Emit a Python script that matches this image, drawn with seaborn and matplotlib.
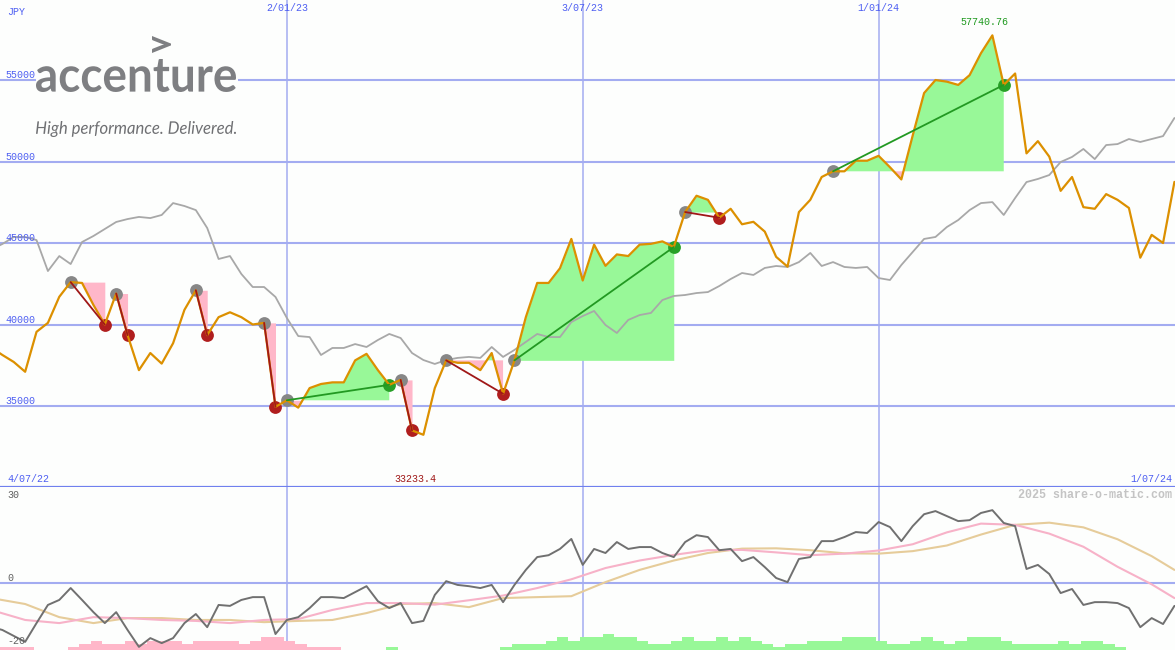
import numpy as np
import pandas as pd
import seaborn as sns
import matplotlib.pyplot as plt
from matplotlib.textpath import TextPath
from matplotlib.patches import PathPatch, Rectangle
from matplotlib.font_manager import FontProperties
from matplotlib.transforms import Affine2D, ScaledTranslation

# weekly closes, 4/07/22 .. 1/07/24 (JPY)
price = [38600, 38130, 37700, 37100, 39550, 40100, 41700, 42600, 42550, 41200,
         40000, 41900, 39350, 37200, 38250, 37600, 38850, 40900, 42100, 39350,
         40450, 40750, 40450, 40000, 40100, 34950, 35350, 34900, 36100, 36350,
         36450, 36450, 37800, 38200, 37200, 36300, 36600, 33500, 33233.4, 36100,
         37800, 37650, 37650, 37200, 38250, 35750, 37800, 40450, 42550, 42550,
         43450, 45250, 42700, 44900, 43600, 44300, 44200, 44900, 44950, 45100,
         44750, 46900, 47900, 47650, 46550, 47100, 46150, 46300, 45700, 44150,
         43550, 46900, 47650, 49050, 49400, 49400, 50050, 50050, 50350, 49650,
         48900, 51600, 54200, 55000, 54900, 54700, 55300, 56650, 57740.76, 54700,
         55400, 50500, 51250, 50300, 48200, 49050, 47200, 47100, 48000, 47650,
         47150, 44100, 45500, 45000, 48750]

# comparison index (scaled to the price axis)
bench = [44600, 44940, 45370, 45370, 45180, 43280, 44200, 43710, 45060, 45430,
         45860, 46290, 46470, 46600, 46530, 46720, 47450, 47270, 47020, 45920,
         44020, 44200, 43100, 42300, 42300, 41690, 40400, 39290, 39230, 38130,
         38560, 38560, 38800, 38620, 39050, 39420, 39170, 38250, 37820, 37580,
         37820, 37950, 38010, 37950, 38620, 38010, 38440, 38930, 39420, 39230,
         39230, 40150, 40520, 40830, 39970, 39480, 40280, 40580, 40710, 41500,
         41750, 41810, 41930, 41990, 42360, 42790, 43160, 43040, 43470, 43590,
         43530, 43830, 44390, 43590, 43830, 43530, 43470, 43530, 42850, 42730,
         43650, 44450, 45250, 45370, 45980, 46410, 47020, 47450, 47510, 46720,
         47760, 48740, 48930, 49170, 49970, 50280, 50770, 50150, 51010, 51070,
         51380, 51200, 51380, 51560, 52670]

# trades: entry week -> exit week
entries = [7, 11, 18, 24, 26, 36, 40, 46, 61, 74]
exits = [10, 12, 19, 25, 35, 37, 45, 60, 64, 89]

# lower panel oscillator
momentum = [-14.0, -15.0, -16.9, -18.8, -12.8, -7.0, -5.4, -1.6, -5.4, -9.3,
            -12.8, -9.3, -15.0, -20.4, -17.6, -19.2, -17.6, -12.8, -9.9, -14.1,
            -7.0, -7.3, -5.4, -4.5, -4.5, -16.3, -11.8, -10.9, -8.0, -4.5,
            -4.5, -4.8, -2.9, -1.0, -5.8, -8.0, -6.4, -12.8, -12.1, -3.8,
            0.6, -0.6, -1.0, -1.6, -0.6, -6.1, -0.6, 4.2, 8.3, 8.9,
            10.9, 14.1, 5.8, 10.9, 9.6, 13.1, 10.9, 11.5, 11.5, 9.6,
            8.3, 13.1, 15.3, 14.7, 10.5, 10.9, 7.0, 8.3, 5.1, 1.6,
            0.3, 7.7, 8.3, 13.4, 13.4, 14.7, 16.3, 16.0, 19.5, 17.9,
            13.4, 18.2, 22.0, 23.0, 21.4, 19.8, 20.1, 22.4, 23.3, 19.2,
            18.2, 4.5, 5.8, 2.9, -3.2, -1.9, -7.0, -6.1, -6.1, -6.4,
            -8.0, -14.1, -11.2, -13.1, -7.3]

ma_weeks = [0, 3, 6, 9, 12, 15, 18, 21, 24, 27, 30, 33, 36, 39, 42, 45, 48, 51,
            54, 57, 60, 63, 66, 69, 72, 75, 78, 81, 84, 87, 90, 93, 96, 99, 102, 104]
ma_fast = [-8.6, -11.8, -12.8, -10.9, -11.2, -11.8, -12.1, -12.8, -11.8, -11.5,
           -8.6, -6.4, -6.4, -6.9, -5.5, -4.0, -1.6, 1.2, 4.8, 7.2,
           9.0, 10.5, 10.6, 9.8, 8.9, 9.4, 10.4, 12.4, 16.2, 19.0,
           18.6, 15.8, 11.6, 5.2, -0.4, -4.8]
ma_slow = [-4.8, -6.7, -10.9, -12.8, -11.2, -11.2, -11.8, -11.8, -12.5, -12.1,
           -11.8, -9.6, -6.7, -6.4, -7.7, -4.8, -4.5, -4.2, 0.3, 4.2,
           7.2, 9.6, 11.0, 11.1, 10.5, 9.5, 9.4, 10.2, 12.0, 15.5,
           18.6, 19.3, 17.8, 14.0, 8.6, 4.2]

signal = [-1, -1, -1, -1, 0, 0, 0, -1, -2, -3,
          -2, -2, -3, -2, -3, -3, -3, -2, -3, -3,
          -3, -3, -2, -3, -4, -4, -3, -2, -1, -1,
          -1, 0, 0, 0, 0, 1, 0, 0, 0, 0,
          0, 0, 0, 0, 0, 1, 2, 2, 2, 3,
          4, 3, 4, 4, 5, 4, 4, 3, 2, 2,
          3, 4, 3, 3, 4, 3, 4, 3, 2, 1,
          2, 2, 3, 3, 3, 4, 4, 4, 3, 2,
          2, 3, 4, 3, 2, 3, 4, 4, 4, 3,
          2, 2, 2, 2, 3, 2, 3, 3, 2, 1,
          0, 0, 0, 0, 0]

price_levels = [35000, 40000, 45000, 50000, 55000]
date_weeks = [26, 52, 78]
date_labels = ['2/01/23', '3/07/23', '1/01/24']

GRID = '#a3acf1'
BLUE = '#4d5ef2'
GREEN_FILL = '#98f898'
PINK_FILL = '#ffb7c9'
FS = 7.2


def fit_text(ax, s, box, prop, color):
    """Draw text stretched to fill a pixel box (x0, x1, ytop, ybottom)."""
    x0, x1, y0, y1 = box
    tp = TextPath((0, 0), s, size=1, prop=prop)
    bb = tp.get_extents()
    tr = (Affine2D().translate(-bb.x0, -bb.y0)
          .scale((x1 - x0) / bb.width, -(y1 - y0) / bb.height)
          .translate(x0, y1))
    ax.add_patch(PathPatch(tr.transform_path(tp), facecolor=color, edgecolor='none'))


def main():
    sns.set_style('white')
    plt.rcParams['font.family'] = ['Liberation Mono', 'DejaVu Sans Mono']

    df = pd.DataFrame({'week': np.arange(len(price)), 'price': price,
                       'bench': bench, 'momentum': momentum, 'signal': signal})
    ma = pd.DataFrame({'week': ma_weeks, 'fast': ma_fast, 'slow': ma_slow})
    p = df['price'].to_numpy()
    w = df['week'].to_numpy()

    fig = plt.figure(figsize=(11.75, 6.5), dpi=100, facecolor='#fdfefd')
    ax = fig.add_axes([0, 163 / 650, 1, 487 / 650], facecolor='#fdfefd')
    axb = fig.add_axes([0, 0, 1, 163 / 650], facecolor='#fdfefd')

    # ---- price panel
    for lv in price_levels:
        ax.axhline(lv, color=GRID, lw=1.5, zorder=0.5)
        ax.text(0.005, lv, str(lv), transform=ax.get_yaxis_transform(),
                ha='left', va='bottom', fontsize=FS, color=BLUE, zorder=11)
    for wk, lab in zip(date_weeks, date_labels):
        ax.axvline(wk, color=GRID, lw=1.1, zorder=0.5)
        axb.axvline(wk, color=GRID, lw=1.1, zorder=0.5)
        ax.text(wk, 0.984, lab, transform=ax.get_xaxis_transform(),
                ha='center', va='center', fontsize=FS, color=BLUE)

    for e, x in zip(entries, exits):
        xs, ys, lvl = w[e:x + 1], p[e:x + 1], p[e]
        ax.fill_between(xs, ys, lvl, where=ys >= lvl, interpolate=True,
                        color=GREEN_FILL, lw=0, zorder=1)
        ax.fill_between(xs, ys, lvl, where=ys <= lvl, interpolate=True,
                        color=PINK_FILL, lw=0, zorder=1)

    sns.lineplot(data=df, x='week', y='bench', ax=ax, color='#a8a8a8', lw=1.3, zorder=2)
    sns.lineplot(data=df, x='week', y='price', ax=ax, color='#dc9000', lw=1.6, zorder=4)

    for e, x in zip(entries, exits):
        win = p[x] > p[e]
        c_line = '#229922' if win else '#a01818'
        c_dot = '#27a027' if win else '#b01e1e'
        ax.plot([e, x], [p[e], p[x]], color=c_line, lw=1.3, zorder=5)
        ax.scatter([e], [p[e]], s=85, color='#878787', lw=0, zorder=3)
        ax.scatter([x], [p[x]], s=85, color=c_dot, lw=0, zorder=3)

    shift = ScaledTranslation(-8 / 100, 0, fig.dpi_scale_trans)
    imax, imin = int(np.argmax(p)), int(np.argmin(p))
    ax.text(imax, 0.955, f'{p[imax]:.2f}', transform=ax.get_xaxis_transform() + shift,
            ha='center', va='center', fontsize=FS, color='#1f9a1f')
    ax.text(imin, 0.016, f'{p[imin]:g}', transform=ax.get_xaxis_transform() + shift,
            ha='center', va='center', fontsize=FS, color='#a01818')
    ax.text(0.006, 0.975, 'JPY', transform=ax.transAxes, ha='left', va='center',
            fontsize=FS, color=BLUE)
    ax.text(0.006, 0.016, '4/07/22', transform=ax.transAxes, ha='left', va='center',
            fontsize=FS, color=BLUE)
    ax.text(0.9975, 0.016, '1/07/24', transform=ax.transAxes, ha='right', va='center',
            fontsize=FS, color=BLUE)

    ax.set_ylim(30030, 59910)

    # ---- oscillator panel
    axb.axhline(0, color=GRID, lw=1.5, zorder=0.5)
    sig = df['signal'].to_numpy()
    axb.bar(w - 0.25, np.abs(sig), width=1.0, align='edge', bottom=-21.4,
            color=[GREEN_FILL if s > 0 else PINK_FILL for s in sig], lw=0, zorder=1)
    sns.lineplot(data=ma, x='week', y='slow', ax=axb, color='#e6cc9a', lw=1.5, zorder=2)
    sns.lineplot(data=ma, x='week', y='fast', ax=axb, color='#f7b2c8', lw=1.5, zorder=2)
    sns.lineplot(data=df, x='week', y='momentum', ax=axb, color='#707070', lw=1.4, zorder=3)
    axb.set_ylim(-21.4, 30.7)
    for val in (0, -20):
        axb.text(0.006, val, str(val), transform=axb.get_yaxis_transform(),
                 ha='left', va='bottom', fontsize=FS, color='#606060')
    axb.text(0.006, 0.951, '30', transform=axb.transAxes, ha='left', va='center',
             fontsize=FS, color='#606060')
    axb.text(0.9975, 0.951, '2025 share-o-matic.com', transform=axb.transAxes,
             ha='right', va='center', fontsize=8.4, fontweight='bold', color='#c4c4c4')

    for a in (ax, axb):
        a.set_xlim(0.79, 104.05)
        a.set_xticks([])
        a.set_yticks([])
        a.set_xlabel('')
        a.set_ylabel('')
        for sp in a.spines.values():
            sp.set_visible(False)
    ax.spines['bottom'].set_visible(True)
    ax.spines['bottom'].set_color('#7080ee')
    ax.spines['bottom'].set_linewidth(1.6)

    # ---- logo overlay (pixel coordinates)
    logo = fig.add_axes([0, 0, 1, 1], facecolor='none', zorder=10)
    logo.set_xlim(0, 1175)
    logo.set_ylim(650, 0)
    logo.axis('off')
    logo.add_patch(Rectangle((36, 30), 202, 70, facecolor='#fdfefd', edgecolor='none'))
    fit_text(logo, 'accenture', (36, 236, 59, 92),
             FontProperties(family='Lato', weight='bold'), '#7e7f82')
    fit_text(logo, '>', (152, 171, 36, 53),
             FontProperties(family='Lato', weight='bold'), '#7e7f82')
    fit_text(logo, 'High performance. Delivered.', (36, 236, 121, 137),
             FontProperties(family='Lato', style='italic'), '#6f7073')

    fig.savefig('out.png', dpi=100, facecolor=fig.get_facecolor())


if __name__ == '__main__':
    main()
